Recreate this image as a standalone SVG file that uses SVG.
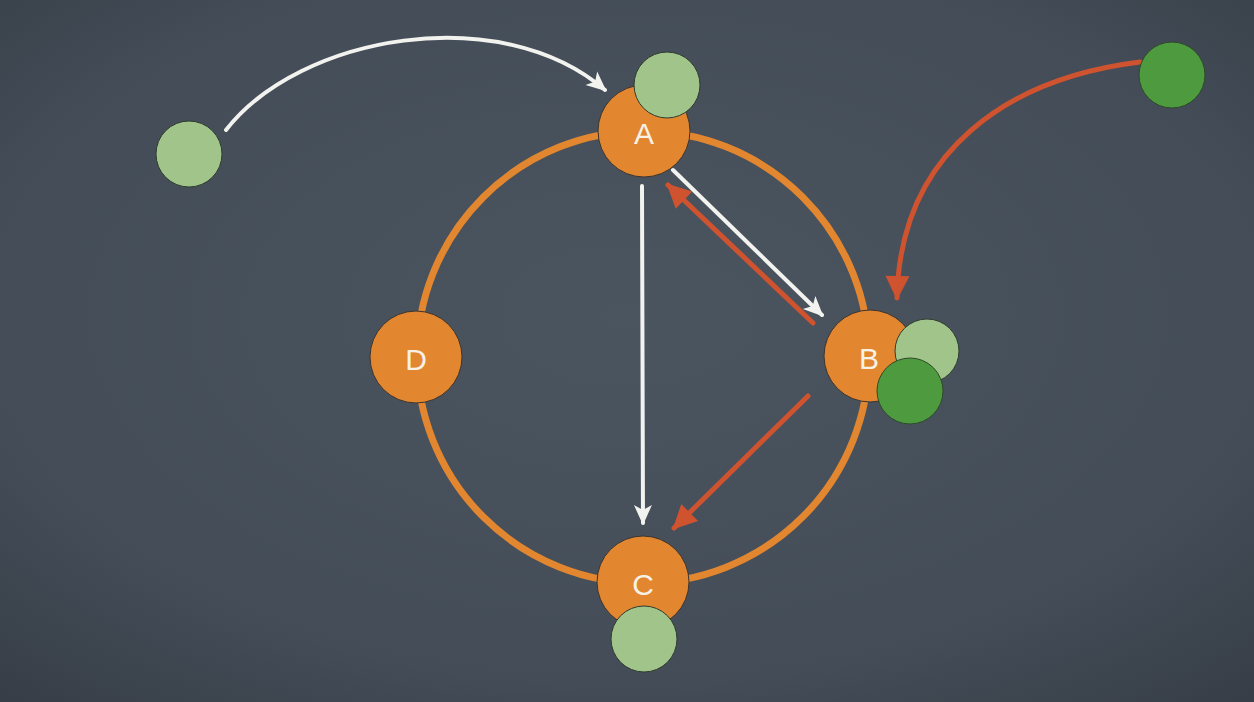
<svg xmlns="http://www.w3.org/2000/svg" width="1254" height="702" viewBox="0 0 1254 702">
<defs>
<radialGradient id="bg" cx="50%" cy="45%" r="75%">
<stop offset="0" stop-color="#4b5560"/>
<stop offset="0.7" stop-color="#434c57"/>
<stop offset="1" stop-color="#363d46"/>
</radialGradient>
<marker id="mw" markerUnits="userSpaceOnUse" markerWidth="24" markerHeight="24" viewBox="0 0 24 24" refX="20" refY="12" orient="auto">
<path d="M2,3 L22,12 L2,21 L7,12 Z" fill="#f2f2ef"/>
</marker>
<marker id="mr" markerUnits="userSpaceOnUse" markerWidth="28" markerHeight="28" viewBox="0 0 28 28" refX="24" refY="14" orient="auto">
<path d="M2,2 L26,14 L2,26 Z" fill="#cf532f"/>
</marker>
</defs>
<style>
.ring{fill:none;stroke:#e2862f;stroke-width:7}
.node{fill:#e2862f;stroke:#3a3430;stroke-width:1}
.lbl{font-family:"Liberation Sans",Arial,sans-serif;font-size:30px;fill:#f7f1e6;text-anchor:middle;dominant-baseline:central}
.lg{fill:#a0c489;stroke:#2f3d30;stroke-width:1}
.dg{fill:#4e9a3f;stroke:#2e4a29;stroke-width:1}
.w{fill:none;stroke:#f2f2ef;stroke-width:4;stroke-linecap:round;marker-end:url(#mw)}
.r{fill:none;stroke:#cf532f;stroke-width:5;stroke-linecap:round;marker-end:url(#mr)}
</style>
<rect width="1254" height="702" fill="url(#bg)"/>
<circle class="ring" cx="643" cy="357" r="226"/>
<g id="connectors">
<path class="w" d="M226,130 C300,35 500,0 605,90"/>
<path class="r" d="M1140,62 C1010,78 900,150 897,298"/>
<path class="w" d="M642,186 L643,523"/>
<path class="w" d="M673,170 L822,315"/>
<path class="r" d="M813,323 L668,185"/>
<path class="r" d="M808,396 L674,528"/>
</g>
<g id="nodeA"><circle class="node" cx="644" cy="131" r="46"/><text class="lbl" x="644" y="133">A</text></g>
<g id="nodeB"><circle class="node" cx="870" cy="356" r="46"/><text class="lbl" x="869" y="358">B</text></g>
<g id="nodeC"><circle class="node" cx="643" cy="582" r="46"/><text class="lbl" x="643" y="584">C</text></g>
<g id="nodeD"><circle class="node" cx="416" cy="357" r="46"/><text class="lbl" x="416" y="359">D</text></g>
<g id="ballA"><circle class="lg" cx="667" cy="85" r="33"/></g>
<g id="ballLeft"><circle class="lg" cx="189" cy="154" r="33"/></g>
<g id="ballB1"><circle class="lg" cx="927" cy="351" r="32"/></g>
<g id="ballB2"><circle class="dg" cx="910" cy="391" r="33"/></g>
<g id="ballC"><circle class="lg" cx="644" cy="639" r="33"/></g>
<g id="ballTopRight"><circle class="dg" cx="1172" cy="75" r="33"/></g>
</svg>
